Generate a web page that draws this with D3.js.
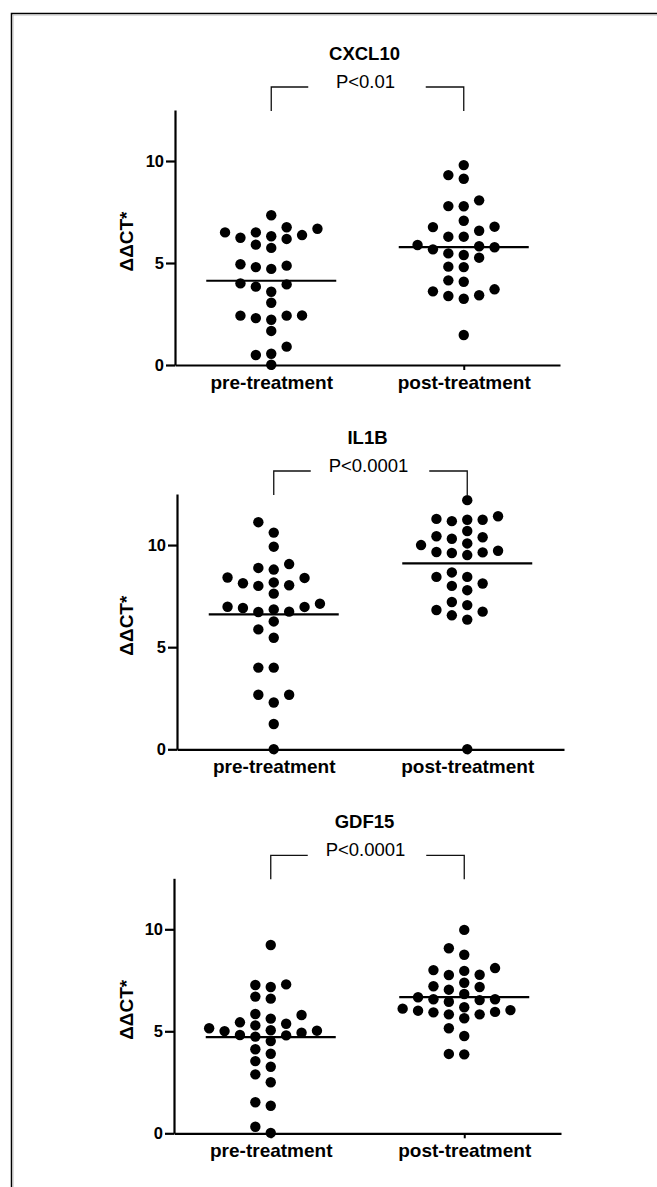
<!DOCTYPE html>
<html><head><meta charset="utf-8">
<script src="https://cdn.jsdelivr.net/npm/d3@7"></script>
<style>body{margin:0;background:#fff} svg{display:block}</style>
</head><body>
<svg id="c" width="657" height="1187"></svg>
<script>
// ---- data ----
const genes = ["CXCL10", "IL1B", "GDF15"];
const pLabels = ["P<0.01", "P<0.0001", "P<0.0001"];
const categories = ["pre-treatment", "post-treatment"];
const yTicks = [0, 5, 10];
const yLabel = "ΔΔCT*";

const cxcl10Pre = [7.34,6.50,6.31,6.75,6.18,6.68,6.50,5.74,5.90,6.24,6.37,4.94,4.80,4.71,4.87,3.95,3.59,3.84,4.00,3.05,2.42,2.30,2.43,2.22,2.42,1.67,0.90,0.55,0.49,0.01];
const cxcl10Post = [9.80,9.31,9.13,8.07,7.78,7.79,7.07,6.78,6.58,6.76,6.29,6.29,5.82,5.67,5.77,5.88,5.39,5.26,5.47,4.80,4.82,4.08,4.15,3.61,3.38,3.25,3.42,3.71,1.47];
const il1bPre = [11.12,10.61,9.92,9.07,8.80,8.88,8.41,8.17,8.03,8.00,8.13,8.39,7.62,7.13,6.97,6.85,6.72,6.74,6.92,6.98,6.26,5.87,5.46,4.00,4.00,2.67,2.29,2.67,1.24,0.01];
const il1bPost = [12.20,11.41,11.24,11.17,11.24,11.28,10.69,10.38,10.31,10.43,10.08,10.00,9.72,9.64,9.51,9.61,9.66,8.44,8.12,8.00,8.44,8.66,7.79,7.21,6.82,6.56,6.35,6.74,7.06,0.01];
const gdf15Pre = [9.23,7.30,7.17,7.27,6.60,6.70,5.85,5.62,5.37,5.29,5.44,5.80,5.05,4.93,4.80,5.15,5.03,4.74,4.82,5.01,4.52,3.90,4.12,3.26,3.54,2.89,2.50,1.52,1.35,0.32,0.02];
const gdf15Post = [9.97,9.07,8.75,7.96,8.10,7.76,8.00,7.77,7.17,7.21,7.38,6.83,7.04,6.57,6.53,6.45,6.57,6.67,6.04,5.95,5.83,6.18,6.11,5.83,5.93,6.01,5.64,5.15,4.77,3.87,3.89];

const cxcl10Means = [4.13, 5.78];
const il1bMeans = [6.61, 9.10];
const gdf15Means = [4.71, 6.68];

const seriesByGene = [[cxcl10Pre, cxcl10Post], [il1bPre, il1bPost], [gdf15Pre, gdf15Post]];
const meansByGene = [cxcl10Means, il1bMeans, gdf15Means];

// ---- layout ----
const layout = [
  {top: 110, zero: 365, axisX: 175, axisEnd: 560},
  {top: 494, zero: 749.3, axisX: 177, axisEnd: 564},
  {top: 878.3, zero: 1133.3, axisX: 174, axisEnd: 561}
];
const FONT = "'Liberation Sans', Arial, Helvetica, sans-serif";
const R = 5.2, STEP = 15.4, THRESH = 10.5;

const svg = d3.select("#c");
svg.append("rect").attr("width", 657).attr("height", 1187).attr("fill", "#fff");
// frame (top + left edges)
svg.append("path").attr("d", "M11.5,1187 V13.5 H657").attr("fill", "none")
  .attr("stroke", "#000").attr("stroke-width", 1.5);
svg.append("path").attr("d", "M13,1187 V15 H657").attr("fill", "none")
  .attr("stroke", "#bbb").attr("stroke-width", 1);

function swarm(values, cx, y) {
  const order = values.map((v, i) => i).sort((a, b) => values[a] - values[b]);
  const placed = [];
  const out = new Array(values.length);
  for (const i of order) {
    const py = y(values[i]);
    for (let k = 0; k < 60; k++) {
      const slot = k === 0 ? 0 : (k % 2 === 1 ? -Math.ceil(k / 2) : Math.ceil(k / 2));
      if (!placed.some(p => p.slot === slot && Math.abs(p.py - py) < THRESH)) {
        placed.push({slot, py});
        out[i] = {x: cx + slot * STEP, y: py};
        break;
      }
    }
  }
  return out;
}

genes.forEach((gene, gi) => {
  const L = layout[gi];
  const g = svg.append("g");
  const y = d3.scaleLinear().domain([0, 12.5]).range([L.zero, L.top]);
  const x = d3.scalePoint().domain(categories).range([L.axisX, L.axisEnd]).padding(0.5);

  // y axis
  const ya = g.append("g").attr("transform", `translate(${L.axisX},0)`)
    .call(d3.axisLeft(y).tickValues(yTicks).tickSize(9).tickSizeOuter(0).tickPadding(2));
  ya.select(".domain").attr("stroke", "#000").attr("stroke-width", 2.2);
  ya.selectAll(".tick line").attr("stroke", "#000").attr("stroke-width", 2.2);
  ya.selectAll(".tick text").attr("font-family", FONT).attr("font-size", 16.5)
    .attr("font-weight", "bold").attr("fill", "#000");

  // x axis
  const xa = g.append("g").attr("transform", `translate(0,${L.zero})`)
    .call(d3.axisBottom(x).tickSize(5).tickSizeOuter(0).tickPadding(5.5));
  xa.select(".domain").attr("stroke", "#000").attr("stroke-width", 2.2);
  xa.selectAll(".tick line").attr("stroke", "#000").attr("stroke-width", 2);
  xa.selectAll(".tick text").attr("font-family", FONT).attr("font-size", 19)
    .attr("font-weight", "bold").attr("fill", "#000");

  // y label
  g.append("text")
    .attr("transform", `translate(133,${(L.top + L.zero) / 2 + 4}) rotate(-90)`)
    .attr("text-anchor", "middle")
    .attr("font-family", FONT).attr("font-size", 19).attr("font-weight", "bold")
    .text(yLabel);

  // points
  categories.forEach((cat, ci) => {
    const vals = seriesByGene[gi][ci];
    const pts = swarm(vals, x(cat), y);
    g.append("g").selectAll("circle").data(pts).join("circle")
      .attr("cx", d => d.x).attr("cy", d => d.y).attr("r", R).attr("fill", "#000");
    const m = meansByGene[gi][ci];
    g.append("line")
      .attr("x1", x(cat) - 65).attr("x2", x(cat) + 65)
      .attr("y1", y(m)).attr("y2", y(m))
      .attr("stroke", "#000").attr("stroke-width", 2.2);
  });

  // bracket + labels
  const x0 = x(categories[0]), x1 = x(categories[1]);
  const by = L.top - 23;
  g.append("path")
    .attr("d", `M${x0},${L.top + 1} V${by} H${x0 + 37} M${x1 - 38},${by} H${x1} V${L.top + 1}`)
    .attr("fill", "none").attr("stroke", "#111").attr("stroke-width", 1.3);
  const mid = (x0 + x1) / 2;
  g.append("text").attr("x", mid - 3).attr("y", L.top - 50)
    .attr("text-anchor", "middle").attr("font-family", FONT)
    .attr("font-size", 18.5).attr("font-weight", "bold").text(gene);
  g.append("text").attr("x", mid - 2).attr("y", L.top - 22)
    .attr("text-anchor", "middle").attr("font-family", FONT)
    .attr("font-size", 18.5).text(pLabels[gi]);
});
</script>
</body></html>
